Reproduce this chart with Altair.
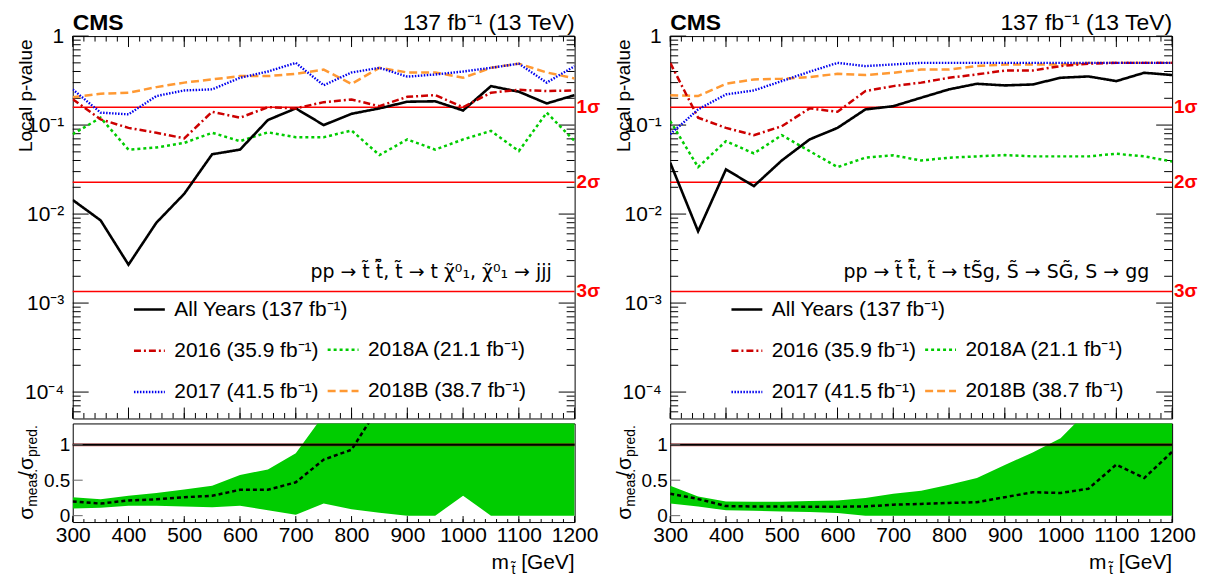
import math
import altair as alt
import pandas as pd

# ---------------- data ----------------
mass = [300, 350, 400, 450, 500, 550, 600, 650, 700, 750, 800, 850, 900, 950, 1000, 1050, 1100, 1150, 1200]

# left panel: RPV stop -> t chi -> jjj   (local p-values)
L_all = [0.0144, 0.0085, 0.0027, 0.0080, 0.0169, 0.047, 0.053, 0.114, 0.154, 0.100, 0.134, 0.154, 0.183, 0.185, 0.146, 0.274, 0.237, 0.175, 0.217]
L_2016 = [0.195, 0.116, 0.093, 0.082, 0.071, 0.141, 0.121, 0.159, 0.154, 0.181, 0.194, 0.163, 0.208, 0.217, 0.159, 0.231, 0.249, 0.241, 0.245]
L_2017 = [0.252, 0.138, 0.132, 0.212, 0.245, 0.252, 0.34, 0.40, 0.50, 0.28, 0.39, 0.44, 0.35, 0.37, 0.40, 0.44, 0.49, 0.30, 0.46]
L_2018A = [0.079, 0.121, 0.053, 0.056, 0.063, 0.082, 0.066, 0.083, 0.073, 0.073, 0.087, 0.046, 0.069, 0.053, 0.069, 0.086, 0.051, 0.138, 0.066]
L_2018B = [0.206, 0.225, 0.231, 0.267, 0.30, 0.326, 0.355, 0.355, 0.377, 0.42, 0.29, 0.44, 0.39, 0.39, 0.34, 0.44, 0.49, 0.39, 0.334]

# right panel: stealth stop -> t S~ g   (local p-values)
R_all = [0.0378, 0.0064, 0.0318, 0.0206, 0.040, 0.069, 0.093, 0.15, 0.163, 0.203, 0.252, 0.291, 0.279, 0.286, 0.34, 0.352, 0.312, 0.387, 0.365]
R_2016 = [0.50, 0.121, 0.093, 0.077, 0.097, 0.154, 0.141, 0.241, 0.274, 0.30, 0.34, 0.371, 0.41, 0.41, 0.46, 0.49, 0.50, 0.50, 0.50]
R_2017 = [0.079, 0.15, 0.221, 0.245, 0.312, 0.398, 0.50, 0.46, 0.48, 0.50, 0.50, 0.50, 0.50, 0.50, 0.50, 0.50, 0.50, 0.50, 0.50]
R_2018A = [0.111, 0.0337, 0.066, 0.048, 0.077, 0.051, 0.0337, 0.043, 0.0457, 0.040, 0.043, 0.0445, 0.046, 0.0445, 0.0445, 0.0445, 0.0476, 0.0445, 0.039]
R_2018B = [0.217, 0.212, 0.291, 0.326, 0.332, 0.346, 0.377, 0.365, 0.387, 0.42, 0.42, 0.46, 0.48, 0.48, 0.48, 0.50, 0.50, 0.50, 0.50]

# ratio panels: sigma_meas / sigma_pred (dashed) and green band
L_obs = [0.20, 0.17, 0.215, 0.23, 0.26, 0.28, 0.365, 0.365, 0.47, 0.79, 0.93, 1.55, 2.2, 2.6, 3.0, 3.0, 3.0, 3.0, 3.0]
L_hi = [0.26, 0.23, 0.28, 0.32, 0.37, 0.42, 0.575, 0.65, 0.88, 1.42, 2.0, 2.0, 2.0, 2.0, 2.0, 2.0, 2.0, 2.0, 2.0]
L_lo = [0.10, 0.11, 0.14, 0.14, 0.13, 0.12, 0.14, 0.075, 0.014, 0.17, 0.09, 0.04, 0.0, 0.0, 0.28, 0.0, 0.0, 0.0, 0.0]
R_obs = [0.31, 0.235, 0.135, 0.13, 0.13, 0.126, 0.126, 0.13, 0.155, 0.165, 0.18, 0.19, 0.26, 0.33, 0.32, 0.38, 0.72, 0.53, 0.90]
R_hi = [0.42, 0.27, 0.20, 0.196, 0.196, 0.205, 0.215, 0.25, 0.31, 0.35, 0.435, 0.53, 0.715, 0.89, 1.09, 1.49, 2.0, 2.0, 2.0]
R_lo = [0.17, 0.13, 0.075, 0.07, 0.06, 0.05, 0.037, 0.0, 0.0, 0.0, 0.0, 0.0, 0.0, 0.0, 0.0, 0.0, 0.0, 0.0, 0.0]
ratio_ref = [1.0]

series_A = ["All Years (137 fb\u207b\u00b9)", "2016 (35.9 fb\u207b\u00b9)", "2017 (41.5 fb\u207b\u00b9)"]
series_B = ["2018A (21.1 fb\u207b\u00b9)", "2018B (38.7 fb\u207b\u00b9)"]

sigma_p = [0.1587, 0.02275, 0.00135]
sigma_text = ["1\u03c3", "2\u03c3", "3\u03c3"]

x_major = [300, 400, 500, 600, 700, 800, 900, 1000, 1100, 1200]
x_minor = list(range(300, 1201, 20))
y_major = [1, 0.1, 0.01, 0.001, 0.0001]
y_major_text = ["1", "10\u207b\u00b9", "10\u207b\u00b2", "10\u207b\u00b3", "10\u207b\u2074"]
r_ticks = [0, 0.5, 1]

proc_L = "pp \u2192 t\u0303 t\u0303\u0304, t\u0303 \u2192 t \u03c7\u0303\u2070\u2081,  \u03c7\u0303\u2070\u2081 \u2192 jjj"
proc_R = "pp \u2192 t\u0303 t\u0303\u0304, t\u0303 \u2192 tS\u0303g, S\u0303 \u2192 SG\u0303, S \u2192 gg"

# ---------------- style ----------------
FONT = "Liberation Sans"
W, HT, HR = 504, 384, 99
YMIN = 5.05e-5
RMIN, RMAX = -0.09, 1.30
RED, BLUE, GREEN, ORANGE = "#cc0000", "#0000ee", "#00cc00", "#ff9933"
colors_A = ["#000000", RED, BLUE]
dash_A = [[1, 0], [7, 3, 2, 3], [1.5, 1.5]]
width_A = [2.6, 2.4, 2.0]
colors_B = [GREEN, ORANGE]
dash_B = [[3, 3], [8, 4]]
width_B = [2.5, 2.5]

y_minor = [m * 10.0 ** e for e in range(-5, 0) for m in range(2, 10) if m * 10.0 ** e >= YMIN]

label_expr = " : ".join(
    f"abs(log(datum.value)/LN10 - ({round(math.log10(v))})) < 0.01 ? '{t}'"
    for v, t in zip(y_major, y_major_text)
) + " : ''"


def lines_df(names, arrays):
    rows = []
    for n, arr in zip(names, arrays):
        for m, p in zip(mass, arr):
            rows.append({"mass": m, "p": p, "series": n})
    return pd.DataFrame(rows)


def note(text, x, y, size, weight="normal", align="left", color="black", angle=None,
         baseline="alphabetic", font=FONT):
    kw = dict(font=font, fontSize=size, fontWeight=weight, align=align, color=color, baseline=baseline)
    if angle is not None:
        kw["angle"] = angle
    return alt.Chart(pd.DataFrame({"t": [text]})).mark_text(**kw).encode(
        x=alt.value(x), y=alt.value(y), text="t:N")


def xticks(values, scale, y0, y1, color="black"):
    return alt.Chart(pd.DataFrame({"v": values})).mark_rule(color=color, strokeWidth=1).encode(
        x=alt.X("v:Q", scale=scale, axis=None), y=alt.value(y0), y2=alt.value(y1))


def yticks(values, scale, x0, x1, color="black"):
    return alt.Chart(pd.DataFrame({"v": values})).mark_rule(color=color, strokeWidth=1).encode(
        y=alt.Y("v:Q", scale=scale, axis=None), x=alt.value(x0), x2=alt.value(x1))


def top_panel(arrA, arrB, proc, procx):
    xs = alt.Scale(domain=[300, 1200], nice=False, zero=False)
    ys = alt.Scale(type="log", domain=[YMIN, 1], nice=False)
    dA = lines_df(series_A, arrA)
    dB = lines_df(series_B, arrB)
    sig = pd.DataFrame({"p": sigma_p, "label": sigma_text})

    def X(axis):
        return alt.X("mass:Q", scale=xs, axis=axis)

    def Y(axis):
        return alt.Y("p:Q", scale=ys, axis=axis)

    main_y = alt.Axis(orient="left", values=y_major, labelExpr=label_expr, ticks=False, domain=False,
                      grid=False, labelFontSize=21, labelPadding=9, labelOverlap=False,
                      title="Local p-value", titleFontSize=19, titleFontWeight="normal",
                      titleAngle=270, titleAlign="right", titleBaseline="bottom", titleX=-37, titleY=3)
    main_x = alt.Axis(orient="bottom", labels=False, ticks=False, domain=False, grid=False, title=None)

    def leg(x, y):
        return alt.Legend(orient="none", legendX=x, legendY=y, direction="vertical", title=None,
                          symbolType="stroke", symbolSize=961, symbolStrokeWidth=2.5,
                          labelFontSize=21, labelFont=FONT, labelColor="black", labelLimit=500,
                          rowPadding=14.4, labelOffset=8, padding=0)

    legA = leg(60, 257.6)
    legB = leg(254.5, 298)

    carrier = alt.Chart(dA).mark_point(opacity=0, size=1).encode(x=X(main_x), y=Y(main_y))
    rules = alt.Chart(sig).mark_rule(color="#ff0000", strokeWidth=1.5).encode(y=Y(None))
    sig_lab = alt.Chart(sig).mark_text(font=FONT, fontSize=19, fontWeight="bold", color="#ff0000",
                                       align="left", baseline="middle").encode(
        y=Y(None), x=alt.value(W + 2), text="label:N")

    linesB = alt.Chart(dB).mark_line(clip=True).encode(
        x=X(None), y=Y(None),
        color=alt.Color("series:N", scale=alt.Scale(domain=series_B, range=colors_B), legend=legB),
        strokeDash=alt.StrokeDash("series:N", scale=alt.Scale(domain=series_B, range=dash_B), legend=legB),
        strokeWidth=alt.StrokeWidth("series:N", scale=alt.Scale(domain=series_B, range=width_B), legend=None),
    )
    linesA = alt.Chart(dA).mark_line(clip=True).encode(
        x=X(None), y=Y(None),
        color=alt.Color("series:N", scale=alt.Scale(domain=series_A, range=colors_A), legend=legA),
        strokeDash=alt.StrokeDash("series:N", scale=alt.Scale(domain=series_A, range=dash_A), legend=legA),
        strokeWidth=alt.StrokeWidth("series:N", scale=alt.Scale(domain=series_A, range=width_A), legend=None),
    )

    ticks = [
        xticks(x_major, xs, HT, HT - 11), xticks(x_minor, xs, HT, HT - 5.5),
        xticks(x_major, xs, 0, 11), xticks(x_minor, xs, 0, 5.5),
        yticks(y_major, ys, 0, 16), yticks(y_minor, ys, 0, 8),
        yticks(y_major, ys, W - 16, W), yticks(y_minor, ys, W - 8, W),
    ]

    texts = [
        note("CMS", 0, -5.7, 23, weight="bold"),
        note("137 fb\u207b\u00b9 (13 TeV)", W, -5.7, 23, align="right"),
        note(proc, procx, 242.7, 19, align="right", font="DejaVu Sans"),
    ]

    return alt.layer(carrier, *ticks, rules, sig_lab, linesB, linesA, *texts).resolve_scale(
        color="independent", strokeDash="independent", strokeWidth="independent"
    ).resolve_axis(x="independent", y="independent").properties(width=W, height=HT)


def ratio_panel(obs, lo, hi):
    df = pd.DataFrame({"mass": mass, "obs": obs, "lo": lo, "hi": hi})
    ref = pd.DataFrame({"r": ratio_ref})
    xs = alt.Scale(domain=[300, 1200], nice=False, zero=False)
    rs = alt.Scale(domain=[RMIN, RMAX], nice=False, zero=False)

    def X(axis):
        return alt.X("mass:Q", scale=xs, axis=axis)

    main_x = alt.Axis(orient="bottom", values=x_major, format="d", ticks=False, domain=False, grid=False,
                      labelFontSize=21, labelPadding=3, labelFlush=False, labelOverlap=False, title=None)
    main_y = alt.Axis(orient="left", values=r_ticks, format="~g", ticks=False, domain=False, grid=False,
                      labelFontSize=19, labelPadding=3, labelOverlap=False, title=None)

    band = alt.Chart(df).mark_area(color=GREEN, clip=True, opacity=1).encode(
        x=X(main_x), y=alt.Y("hi:Q", scale=rs, axis=main_y), y2="lo:Q")
    ref_red = alt.Chart(ref).mark_rule(color="#cc0000", strokeWidth=3.5, opacity=0.35).encode(
        y=alt.Y("r:Q", scale=rs, axis=None))
    ref_blk = alt.Chart(ref).mark_rule(color="black", strokeWidth=1.8).encode(
        y=alt.Y("r:Q", scale=rs, axis=None))
    obs_line = alt.Chart(df).mark_line(color="black", strokeDash=[4, 3], strokeWidth=2.5, clip=True).encode(
        x=X(None), y=alt.Y("obs:Q", scale=rs, axis=None))

    ticks = [
        xticks(x_major, xs, HR, HR - 6), xticks(x_minor, xs, HR, HR - 3),
        yticks(r_ticks, rs, 0, 10, color="#666666"),
    ]

    texts = [
        note("\u03c3", -39.5, 96.7, 21, angle=270),
        note("meas.", -35.5, 83.7, 14, angle=270),
        note("/", -39.5, 53.7, 21, angle=270),
        note("\u03c3", -39.5, 46.7, 21, angle=270),
        note("pred.", -35.5, 33.7, 14, angle=270),
        note("[GeV]", W, 146.5, 21, align="right"),
        note("t\u0303", W - 59.5, 151.5, 14, align="right"),
        note("m", W - 66, 146.5, 21, align="right"),
    ]
    return alt.layer(band, ref_red, ref_blk, obs_line, *ticks, *texts).resolve_axis(
        x="independent", y="independent").properties(width=W, height=HR)


topL = top_panel([L_all, L_2016, L_2017], [L_2018A, L_2018B], proc_L, 481)
topR = top_panel([R_all, R_2016, R_2017], [R_2018A, R_2018B], proc_R, 481)
ratL = ratio_panel(L_obs, L_lo, L_hi)
ratR = ratio_panel(R_obs, R_lo, R_hi)

chart = alt.concat(topL, topR, ratL, ratR, columns=2,
                   spacing=alt.RowColnumber(row=5, column=96), bounds="flush").properties(
    padding={"left": 7, "top": 2, "right": 0, "bottom": 0}, background="white"
).configure_view(stroke="black", strokeWidth=1).configure_axis(
    labelFont=FONT, titleFont=FONT, labelColor="black", titleColor="black"
).configure_legend(labelFont=FONT)

chart.save("out.html", embed_options={"renderer": "svg", "actions": False})
